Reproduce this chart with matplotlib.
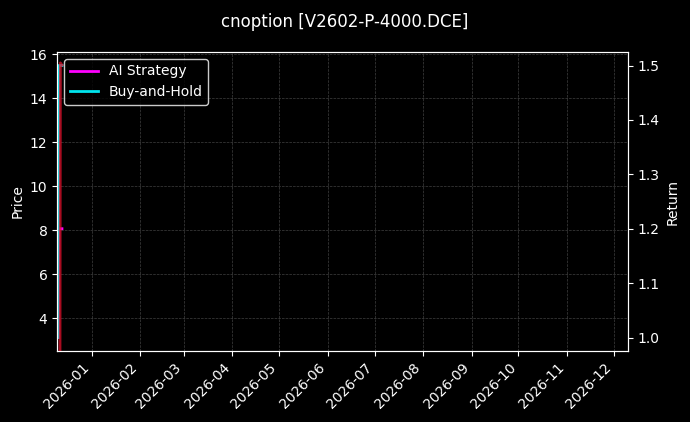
import matplotlib
matplotlib.use("Agg")
import matplotlib.pyplot as plt
import matplotlib.dates as mdates
import pandas as pd

plt.style.use("dark_background")

price_dates = pd.to_datetime(["2025-12-11 18:00", "2025-12-12 00:00", "2025-12-13 00:00"])
price = [2.3, 15.6, 15.5]
return_dates = pd.to_datetime(["2025-12-10 12:00", "2025-12-11 00:00", "2025-12-13 00:00"])
ai_return = [1.0, 1.2, 1.2]
bh_return = [1.0, 1.5, 1.5]
x_range = pd.to_datetime(["2025-12-10", "2026-12-10"])

fig, ax = plt.subplots(figsize=(6.9, 4.22), dpi=100)
fig.subplots_adjust(left=0.083, right=0.91, top=0.877, bottom=0.168)

ax.plot(price_dates, price, color="#e0102a", lw=2, alpha=0.75)
ax.set_ylabel("Price")
ax.set_ylim(2.5, 16.1)
ax.grid(True, linestyle="--", linewidth=0.5, color="gray", alpha=0.5)

ax2 = ax.twinx()
l1, = ax2.plot(return_dates, ai_return, color="#ff00ff", lw=2, label="AI Strategy")
l2, = ax2.plot(return_dates, bh_return, color="#00e5ee", lw=2, label="Buy-and-Hold")
ax2.set_ylabel("Return")

# price line drawn on top of the return lines
ax.set_zorder(ax2.get_zorder() + 1)
ax.patch.set_visible(False)
fig.patch.set_facecolor("black")

ax.set_xlim(x_range[0], x_range[1])
ax.xaxis.set_major_locator(mdates.MonthLocator())
ax.xaxis.set_major_formatter(mdates.DateFormatter("%Y-%m"))
plt.setp(ax.get_xticklabels(), rotation=45, ha="right")

ax.legend(handles=[l1, l2], loc="upper left", facecolor="black", edgecolor="white")
fig.suptitle("cnoption [V2602-P-4000.DCE]", fontsize=12, y=0.97)

fig.savefig("out.png", dpi=100)
